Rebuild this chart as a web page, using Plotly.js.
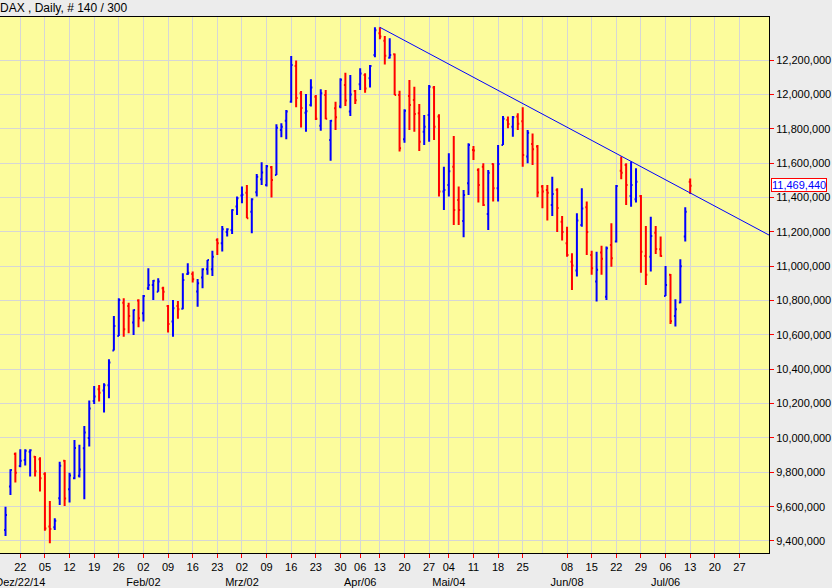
<!DOCTYPE html>
<html>
<head>
<meta charset="utf-8">
<script src="https://cdn.plot.ly/plotly-3.0.1.min.js"></script>
<style>
html,body{margin:0;padding:0;background:#ECECEC;}
#chart{width:832px;height:588px;}
</style>
</head>
<body>
<div id="chart"></div>
<script>
// ---- exchange calendar (trading days only) ----
const holidays = ['2014-12-24','2014-12-25','2014-12-26','2014-12-31','2015-01-01',
                  '2015-04-03','2015-04-06','2015-05-01','2015-05-25'];
const calendarStart = '2014-12-17';
const calendarEnd = '2015-08-07';

// ---- daily bars (DAX points), first bar 2014-12-17 ----
const openPx = [
 9464,9717,9907,9837,9872,9920,9891,9876,9790,9484,
 9480,9649,9868,9701,9765,9780,9940,10000,10215,10284,
 10276,10307,10509,10594,10788,10769,10672,10800,10726,10872,
 10891,10852,10872,10769,10678,10769,10753,10955,10955,10853,
 10934,10983,10983,11153,11134,11200,11212,11348,11412,11429,
 11318,11431,11507,11474,11577,11532,11794,11848,11959,12167,
 12008,11895,11940,11988,11819,11998,11736,11920,11930,12056,
 11901,12021,12060,12114,12095,12231,12357,12314,12214,12235,
 11998,11740,11992,11969,11891,11784,11881,12042,11872,11435,
 11474,11580,11386,11264,11483,11677,11561,11580,11305,11596,
 11454,11707,11852,11813,11872,11845,11639,11712,11697,11464,
 11445,11357,11445,11260,11134,11027,10975,11241,11344,11066,
 10911,11080,10823,11124,11144,11557,11590,11410,11390,11410,
 11060,11056,11196,11099,10827,10950,10711,10789,11173,11493];
const highPx = [
 9600,9818,9915,9934,9934,9935,9895,9888,9800,9633,
 9532,9862,9872,9798,9988,9960,10070,10218,10303,10309,
 10319,10458,10711,10814,10814,10788,10749,10808,10833,10988,
 10920,10930,10881,10775,10804,10798,10959,11017,10969,10926,
 10988,11037,11091,11163,11235,11221,11332,11406,11464,11474,
 11396,11538,11606,11590,11584,11827,11833,11910,12225,12198,
 12021,12004,12089,11998,12031,12027,11852,11959,12095,12128,
 12114,12027,12153,12124,12172,12392,12392,12341,12328,12240,
 12023,11914,12085,12046,11945,11881,12056,12050,11885,11580,
 11658,11759,11464,11445,11716,11701,11571,11600,11561,11600,
 11707,11875,11872,11875,11891,11926,11794,11774,11707,11474,
 11474,11522,11454,11293,11231,11076,11309,11454,11377,11091,
 11085,11120,11115,11250,11474,11639,11600,11610,11571,11415,
 11235,11289,11235,11173,11002,10955,10808,11041,11344,11512];
const lowPx = [
 9429,9668,9740,9829,9840,9775,9775,9688,9460,9387,
 9464,9610,9604,9624,9759,9770,9643,9950,10198,10212,
 10148,10231,10509,10594,10590,10610,10600,10645,10678,10862,
 10804,10852,10800,10614,10590,10695,10750,10949,10905,10765,
 10872,10950,10944,11066,11086,11173,11188,11299,11367,11280,
 11192,11406,11474,11464,11400,11532,11751,11740,11953,11926,
 11808,11784,11930,11852,11790,11856,11615,11794,11920,11934,
 11876,11945,12027,12011,12042,12217,12322,12176,12211,11998,
 11668,11720,11794,11784,11672,11707,11726,11736,11406,11328,
 11406,11241,11241,11169,11415,11619,11371,11351,11212,11377,
 11377,11707,11804,11755,11794,11580,11600,11590,11402,11338,
 11266,11293,11200,11150,11056,10862,10940,11231,11066,10950,
 10795,10950,10804,10998,11138,11507,11357,11347,11371,10963,
 10891,10969,11072,11056,10827,10664,10649,10785,11144,11421];
const closePx = [
 9552,9814,9798,9868,9926,9928,9806,9765,9473,9470,
 9518,9838,9648,9782,9942,9817,10032,10171,10242,10264,
 10307,10439,10652,10804,10633,10711,10746,10697,10827,10891,
 10916,10911,10852,10664,10755,10750,10920,10963,10925,10901,
 10983,11037,11056,11134,11216,11215,11328,11396,11416,11280,
 11390,11522,11546,11582,11503,11807,11813,11901,12173,11980,
 11922,11903,12042,11860,12008,11860,11848,11868,12086,11966,
 12001,11967,12123,12035,12166,12375,12338,12227,12231,11998,
 11688,11906,11940,11887,11726,11813,12046,11813,11435,11445,
 11553,11328,11328,11415,11707,11674,11474,11357,11545,11454,
 11596,11860,11829,11868,11830,11648,11778,11681,11430,11436,
 11428,11421,11340,11200,11066,11005,11266,11336,11200,10988,
 10980,11044,11105,11047,11468,11545,11474,11474,11493,11085,
 10950,11177,11100,11060,10891,10680,10750,11000,11318,11469.44];

// ---- trend line (two anchor points) ----
const trendDates = ['2015-04-13','2015-08-04'];
const trendValues = [12392, 11182];

// ---- x axis weekly labels ----
const tickDates = ['2014-12-22','2015-01-05','2015-01-12','2015-01-19','2015-01-26',
 '2015-02-02','2015-02-09','2015-02-16','2015-02-23','2015-03-02','2015-03-09',
 '2015-03-16','2015-03-23','2015-03-30','2015-04-06','2015-04-13','2015-04-20',
 '2015-04-27','2015-05-04','2015-05-11','2015-05-18','2015-05-25','2015-06-08',
 '2015-06-15','2015-06-22','2015-06-29','2015-07-06','2015-07-13','2015-07-20','2015-07-27'];
const tickDays = ['22','05','12','19','26','02','09','16','23','02','09','16','23','30',
 '06','13','20','27','04','11','18','25','08','15','22','29','06','13','20','27'];
const tickMonths = ['Dez/22/14','','','','','Feb/02','','','','Mrz/02','','','','',
 'Apr/06','','','','Mai/04','','','','Jun/08','','','','Jul/06','','',''];
const extraGridDates = ['2015-06-01'];
const yTicks = [9400,9600,9800,10000,10200,10400,10600,10800,11000,11200,11400,11600,11800,12000,12200];

// ---- build calendar ----
function isoDay(d){return d.toISOString().slice(0,10);}
const calendar = [];
(function(){
  const d = new Date(calendarStart+'T00:00:00Z');
  const end = new Date(calendarEnd+'T00:00:00Z');
  while (d <= end) {
    const wd = d.getUTCDay();
    const s = isoDay(d);
    if (wd !== 0 && wd !== 6 && holidays.indexOf(s) < 0) calendar.push(s);
    d.setUTCDate(d.getUTCDate()+1);
  }
})();
function calIndex(s){
  for (let i=0;i<calendar.length;i++){ if (calendar[i] >= s) return i; }
  return calendar.length-1;
}
const barX = openPx.map((_,i)=>i);
const barDates = calendar.slice(0, openPx.length);
const K = 1000;

const traces = [
 {
  type:'ohlc', x:barX, text:barDates,
  open:openPx.map(v=>v*K), high:highPx.map(v=>v*K), low:lowPx.map(v=>v*K), close:closePx.map(v=>v*K),
  increasing:{line:{color:'#0000FF', width:2}},
  decreasing:{line:{color:'#FF0000', width:2}},
  tickwidth:0.55, hoverinfo:'skip', showlegend:false
 },
 {
  type:'scatter', mode:'lines',
  x:trendDates.map(calIndex), y:trendValues.map(v=>v*K),
  line:{color:'#0000FF', width:1}, hoverinfo:'skip', showlegend:false
 }
];

const lastClose = closePx[closePx.length-1]*K;
const fontFam = 'Liberation Sans, Arial, sans-serif';

const layout = {
  width:832, height:588,
  margin:{l:0, r:63, t:17, b:35, pad:0},
  paper_bgcolor:'#ECECEC',
  plot_bgcolor:'#FCFC9C',
  showlegend:false,
  font:{family:fontFam, size:11, color:'#000'},
  xaxis:{
    type:'linear', range:[-1.12, 155.0], fixedrange:true,
    tickmode:'array',
    tickvals: tickDates.map(calIndex),
    ticktext: tickDays.map((d,i)=> tickMonths[i] ? d+'<br>'+tickMonths[i] : d),
    tickangle:0, automargin:false, ticklabeloverflow:'allow',
    ticks:'outside', ticklen:4, tickcolor:'#FF0000', tickwidth:1,
    showgrid:true, gridcolor:'#D6D6D6', gridwidth:1,
    showline:true, linecolor:'#000', linewidth:1, mirror:true,
    zeroline:false, tickfont:{family:fontFam, size:11, color:'#000'},
    rangeslider:{visible:false}
  },
  yaxis:{
    side:'right', range:[9330*K, 12452*K], fixedrange:true, automargin:false,
    ticklabeloverflow:'allow',
    tickmode:'array', tickvals: yTicks.map(v=>v*K),
    ticktext: yTicks.map(v=>(v*K).toLocaleString('en-US')),
    ticks:'outside', ticklen:4, tickcolor:'#FF0000', tickwidth:1,
    showgrid:true, gridcolor:'#D6D6D6', gridwidth:1,
    showline:true, linecolor:'#000', linewidth:1,
    zeroline:false, tickfont:{family:fontFam, size:11, color:'#000'}
  },
  shapes: extraGridDates.map(d=>({
    type:'line', xref:'x', yref:'paper', x0:calIndex(d), x1:calIndex(d), y0:0, y1:1,
    line:{color:'#D6D6D6', width:1}, layer:'below'
  })),
  annotations:[
    {xref:'paper', yref:'paper', x:0, y:1, xanchor:'left', yanchor:'bottom', xshift:-2, yshift:0,
     text:'DAX , Daily, # 140 / 300', showarrow:false, font:{family:fontFam, size:12, color:'#000'}},
    {xref:'paper', yref:'y', x:1, y:lastClose, xanchor:'left', yanchor:'middle', xshift:2, yshift:1,
     text:lastClose.toLocaleString('en-US'), showarrow:false,
     font:{family:fontFam, size:11, color:'#0000FF'},
     bgcolor:'#FFFFFF', bordercolor:'#FF0000', borderwidth:1, borderpad:0}
  ]
};

Plotly.newPlot('chart', traces, layout, {staticPlot:true, displayModeBar:false});
</script>
</body>
</html>
